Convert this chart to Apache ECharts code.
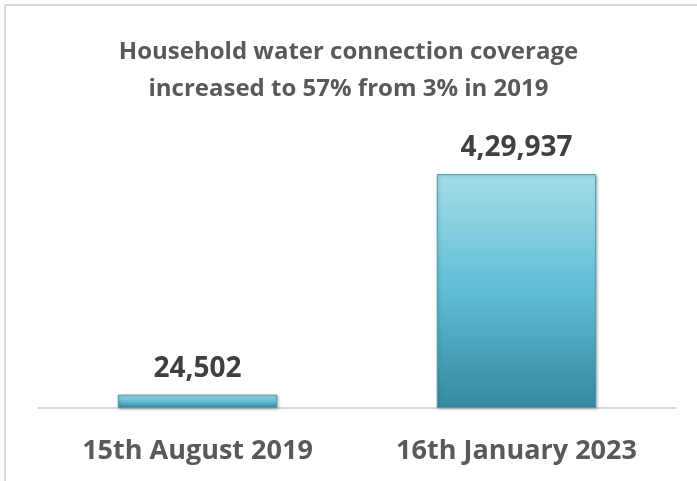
<!DOCTYPE html>
<html><head><meta charset="utf-8">
<script src="https://cdn.jsdelivr.net/npm/echarts@6/dist/echarts.min.js"></script>
<style>html,body{margin:0;padding:0;background:#fff}#c{width:697px;height:481px}</style>
</head><body><div id="c"></div>
<script>
const categories = ['15th August 2019', '16th January 2023'];
const connections = [24502, 429937];
const valueLabels = ['24,502', '4,29,937'];
const titleText = 'Household water connection coverage\nincreased to 57% from 3% in 2019';

const chart = echarts.init(document.getElementById('c'));
const font = 'Open Sans';
chart.setOption({
  animation: false,
  title: {
    text: titleText, left: 'center', top: 29,
    textStyle: { fontFamily: font, fontWeight: 'bold', fontSize: 24, color: '#595959', lineHeight: 37 }
  },
  grid: { left: 38, right: 21, top: 136, bottom: 73 },
  xAxis: {
    type: 'category', data: categories,
    axisTick: { show: false },
    axisLine: { lineStyle: { color: '#d9d9d9', width: 2 } },
    axisLabel: { fontFamily: font, fontWeight: 'bold', fontSize: 27, color: '#595959', margin: 30 }
  },
  yAxis: { type: 'value', min: 0, max: 500000, show: false, splitLine: { show: false } },
  series: [{
    type: 'bar', data: connections, barWidth: '50%',
    itemStyle: {
      color: new echarts.graphic.LinearGradient(0, 0, 0, 1, [
        { offset: 0, color: '#a3dde9' },
        { offset: 0.5, color: '#5fbdd4' },
        { offset: 1, color: '#35899e' }
      ]),
      borderColor: '#4a9bb0', borderWidth: 1,
      shadowColor: 'rgba(0,0,0,0.25)', shadowBlur: 3, shadowOffsetX: 1, shadowOffsetY: 1
    },
    label: {
      show: true, position: 'top', distance: 12,
      formatter: p => valueLabels[p.dataIndex],
      fontFamily: font, fontWeight: 'bold', fontSize: 28, color: '#404040'
    }
  }],
  graphic: [
    { type: 'line', shape: { x1: 5, y1: 5, x2: 697, y2: 5 }, style: { stroke: '#d9d9d9', lineWidth: 2 } },
    { type: 'line', shape: { x1: 5, y1: 5, x2: 5, y2: 481 }, style: { stroke: '#d9d9d9', lineWidth: 2 } }
  ]
});
</script></body></html>
